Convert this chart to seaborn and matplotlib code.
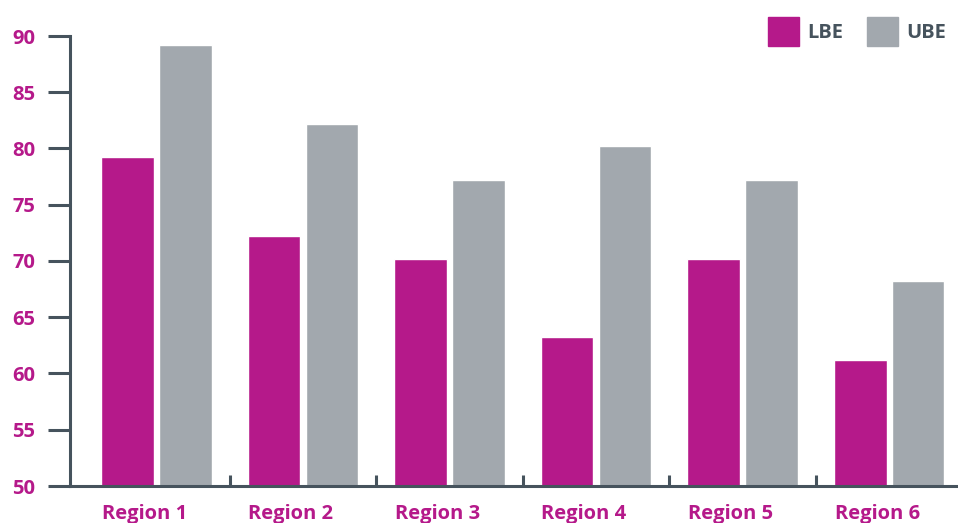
import matplotlib
matplotlib.use("Agg")
import matplotlib.pyplot as plt
import matplotlib.transforms as mtransforms
import seaborn as sns
import pandas as pd
from matplotlib.ticker import FixedLocator

categories = ["Region 1", "Region 2", "Region 3", "Region 4", "Region 5", "Region 6"]
lbe = [79.2, 72.2, 70.2, 63.2, 70.2, 61.2]
ube = [89.2, 82.2, 77.2, 80.2, 77.2, 68.2]
series = ["LBE", "UBE"]
yticks = [50, 55, 60, 65, 70, 75, 80, 85, 90]

MAGENTA = "#B5198A"
GRAY = "#A2A8AE"
DARK = "#46535D"

df = pd.DataFrame({
    "Region": categories * 2,
    "Series": ["LBE"] * len(categories) + ["UBE"] * len(categories),
    "Value": lbe + ube,
})

sns.set_style("white")
plt.rcParams["font.family"] = ["Open Sans", "DejaVu Sans"]

fig = plt.figure(figsize=(9.58, 5.23), dpi=100)
ax = fig.add_axes([70 / 958, 1 - 486 / 523, 888 / 958, 450 / 523])

sns.barplot(data=df, x="Region", y="Value", hue="Series", order=categories,
            hue_order=series, palette=[MAGENTA, GRAY], width=0.79, gap=0.09,
            saturation=1, ax=ax, legend=False)

ax.set_ylim(50, 90)
ax.set_xlim(-0.59, 5.47)
ax.set_yticks(yticks)
ax.set_xlabel("")
ax.set_ylabel("")

for s in ["top", "right"]:
    ax.spines[s].set_visible(False)
for s in ["left", "bottom"]:
    ax.spines[s].set_color(DARK)
    ax.spines[s].set_linewidth(2.2)

ax.tick_params(axis="y", left=True, direction="out", length=16, width=2.2, color=DARK,
               labelsize=14.5, labelcolor=MAGENTA, pad=9)
ax.tick_params(axis="x", which="major", bottom=True, length=0, labelsize=14.5,
               labelcolor=MAGENTA, pad=13)
ax.xaxis.set_minor_locator(FixedLocator([0.5, 1.5, 2.5, 3.5, 4.5]))
ax.tick_params(axis="x", which="minor", bottom=True, direction="in", length=8, width=2.2,
               color=DARK)
shift = mtransforms.ScaledTranslation(-12 / 100, 0, fig.dpi_scale_trans)
for lab in ax.get_xticklabels():
    lab.set_fontweight("bold")
    lab.set_transform(lab.get_transform() + shift)
for lab in ax.get_yticklabels():
    lab.set_fontweight("bold")

handles = [plt.Rectangle((0, 0), 1, 1, color=MAGENTA),
           plt.Rectangle((0, 0), 1, 1, color=GRAY)]
leg = fig.legend(handles, series, loc="upper right", bbox_to_anchor=(1 - 12 / 958, 1 - 17 / 523),
                 ncol=2, frameon=False, fontsize=14.5, handlelength=1.54,
                 handleheight=1.85, handletextpad=0.4, columnspacing=1.2,
                 borderaxespad=0, borderpad=0)
for t in leg.get_texts():
    t.set_color(DARK)
    t.set_fontweight("bold")

fig.savefig("out.png", dpi=100)
